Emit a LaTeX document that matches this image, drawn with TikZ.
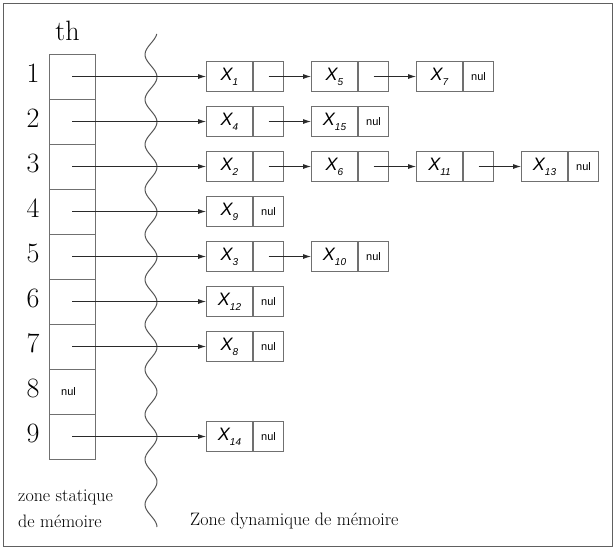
\documentclass[tikz,border=0pt]{standalone}
\usepackage{fontspec}
\newfontfamily\arial{Liberation Sans}
\usetikzlibrary{arrows.meta}
\definecolor{boxc}{HTML}{707070}
\definecolor{linec}{HTML}{2A2A2A}
\definecolor{framec}{HTML}{606060}
\newcommand\xs[1]{{\arial\fontsize{18}{18}\selectfont\itshape X\raisebox{-5pt}{\fontsize{10}{10}\selectfont #1}}}
\newcommand\nulT{{\arial\fontsize{11}{11}\selectfont nul}}
\newcommand\elem[5]{\node[cellL] (#1) at (#2,#3) {\xs{#4}}; \node[cellR] (#1r) at (#1.east) {#5};}
\tikzset{
  cellL/.style={draw=boxc, line width=1pt, minimum width=46pt, minimum height=30pt, inner sep=0pt, anchor=west},
  cellR/.style={draw=boxc, line width=1pt, minimum width=30pt, minimum height=30pt, inner sep=0pt, anchor=west},
  tcell/.style={draw=boxc, line width=1pt, minimum width=46pt, minimum height=45pt, inner sep=0pt},
  ptr/.style={draw=linec, line width=0.8pt, -{Latex[length=8pt,width=5pt]}},
  num/.style={font=\fontsize{28}{30}\selectfont, inner sep=0pt},
  lbl/.style={font=\fontsize{18}{22}\selectfont, inner sep=0pt, anchor=west, align=left},
}
\begin{document}
\begin{tikzpicture}[x=1pt,y=-1pt]
\useasboundingbox (0,0) rectangle (616,550);
\draw[framec, line width=1.3pt] (3.5,3.5) rectangle (612.5,546.5);
% table
\node[num] (th) at (67.5,31) {th};
\foreach \i in {1,...,9}{
  \pgfmathsetmacro\yy{76.5+45*(\i-1)}
  \node[tcell] (t\i) at (72,\yy) {};
  \node[num] (n\i) at (33,\yy-3) {\i};
}
\node[inner sep=0pt] (tnul) at (68.5,391.5) {\nulT};
% wavy line
\draw[linec!80, line width=1pt, smooth, domain=34:527, samples=200, variable=\t]
  plot ({151+6*cos(8*(\t-77))},{\t});
% row 1
\elem{e11}{206}{76.5}{1}{}
\elem{e12}{311}{76.5}{5}{}
\elem{e13}{416}{76.5}{7}{\nulT}
% row 2
\elem{e21}{206}{121.5}{4}{}
\elem{e22}{311}{121.5}{15}{\nulT}
% row 3
\elem{e31}{206}{166.5}{2}{}
\elem{e32}{311}{166.5}{6}{}
\elem{e33}{416}{166.5}{11}{}
\elem{e34}{521}{166.5}{13}{\nulT}
% row 4
\elem{e41}{206}{211.5}{9}{\nulT}
% row 5
\elem{e51}{206}{256.5}{3}{}
\elem{e52}{311}{256.5}{10}{\nulT}
% row 6
\elem{e61}{206}{301.5}{12}{\nulT}
% row 7
\elem{e71}{206}{346.5}{8}{\nulT}
% row 9
\elem{e91}{206}{436.5}{14}{\nulT}
% arrows
\draw[ptr] (t1.center) -- (e11.west);
\draw[ptr] (e11r.center) -- (e12.west);
\draw[ptr] (e12r.center) -- (e13.west);
\draw[ptr] (t2.center) -- (e21.west);
\draw[ptr] (e21r.center) -- (e22.west);
\draw[ptr] (t3.center) -- (e31.west);
\draw[ptr] (e31r.center) -- (e32.west);
\draw[ptr] (e32r.center) -- (e33.west);
\draw[ptr] (e33r.center) -- (e34.west);
\draw[ptr] (t4.center) -- (e41.west);
\draw[ptr] (t5.center) -- (e51.west);
\draw[ptr] (e51r.center) -- (e52.west);
\draw[ptr] (t6.center) -- (e61.west);
\draw[ptr] (t7.center) -- (e71.west);
\draw[ptr] (t9.center) -- (e91.west);
% labels
\node[lbl] (ls1) at (18,497) {zone statique};
\node[lbl] (ls2) at (18,521) {de mémoire};
\node[lbl] (ld) at (190,521) {Zone dynamique de mémoire};
\end{tikzpicture}
\end{document}
